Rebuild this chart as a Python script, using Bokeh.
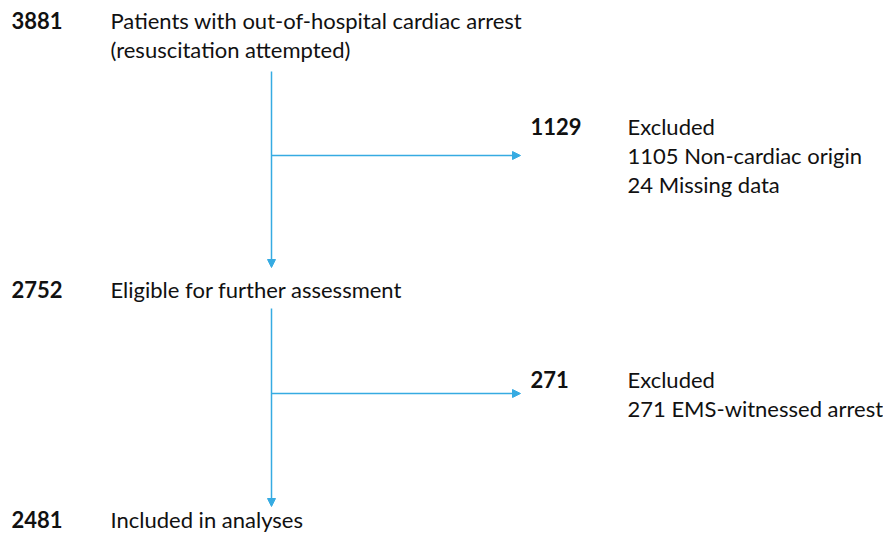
from bokeh.plotting import figure
from bokeh.models import Range1d, Arrow, NormalHead, ColumnDataSource
from bokeh.core.properties import value
from bokeh.embed import file_html
from bokeh.resources import INLINE

# ---- data ----
stage_counts = ["3881", "2752", "2481"]
stage_labels = ["Patients with out-of-hospital cardiac arrest\n(resuscitation attempted)",
                "Eligible for further assessment",
                "Included in analyses"]
excl_counts = ["1129", "271"]
excl_labels = ["Excluded\n1105 Non-cardiac origin\n24 Missing data",
               "Excluded\n271 EMS-witnessed arrest"]

# ---- layout (screen-like coordinates) ----
stage_y = [20, 289, 519]
excl_y = [126, 379]
num_x, lab_x = 11, 110
ex_num_x, ex_lab_x = 530, 627
spine_x = 271
vert_segments = [(71, 267), (308, 506)]
branch_y = [155, 393]
branch_end = 520
line_h = 29

COLOR = "#36ABE2"
FONT = "Lato"
SIZE = "22px"

W, H = 883, 535
p = figure(width=W, height=H, output_backend="svg", toolbar_location=None,
           x_range=Range1d(0, W), y_range=Range1d(H, 0), min_border=0)
p.axis.visible = False
p.grid.visible = False
p.outline_line_color = None
p.background_fill_color = "white"
p.border_fill_color = "white"

def lines_of(labels, ys, x):
    xs, yy, tt = [], [], []
    for lab, y in zip(labels, ys):
        for i, part in enumerate(lab.split("\n")):
            xs.append(x); yy.append(y + i * line_h); tt.append(part)
    return dict(x=xs, y=yy, text=tt)

# numbers (bold)
p.text(x=[num_x] * len(stage_counts), y=stage_y, text=stage_counts,
       text_font=value(FONT), text_font_size=SIZE, text_font_style="bold",
       text_baseline="alphabetic", text_color="#111111")
p.text(x=[ex_num_x] * len(excl_counts), y=excl_y, text=excl_counts,
       text_font=value(FONT), text_font_size=SIZE, text_font_style="bold",
       text_baseline="alphabetic", text_color="#111111")

# labels
src1 = ColumnDataSource(lines_of(stage_labels, stage_y, lab_x))
p.text(x="x", y="y", text="text", source=src1, text_font=value(FONT),
       text_font_size=SIZE, text_baseline="alphabetic", text_color="#111111")
src2 = ColumnDataSource(lines_of(excl_labels, excl_y, ex_lab_x))
p.text(x="x", y="y", text="text", source=src2, text_font=value(FONT),
       text_font_size=SIZE, text_baseline="alphabetic", text_color="#111111")

# arrows
for (y0, y1) in vert_segments:
    p.add_layout(Arrow(x_start=spine_x, y_start=y0, x_end=spine_x, y_end=y1,
                       line_color=COLOR, line_width=1.5,
                       end=NormalHead(size=8, fill_color=COLOR, line_color=COLOR, line_width=1)))
for by in branch_y:
    p.add_layout(Arrow(x_start=spine_x, y_start=by, x_end=branch_end, y_end=by,
                       line_color=COLOR, line_width=1.5,
                       end=NormalHead(size=8, fill_color=COLOR, line_color=COLOR, line_width=1)))

open("out.html", "w").write(file_html(p, INLINE))
